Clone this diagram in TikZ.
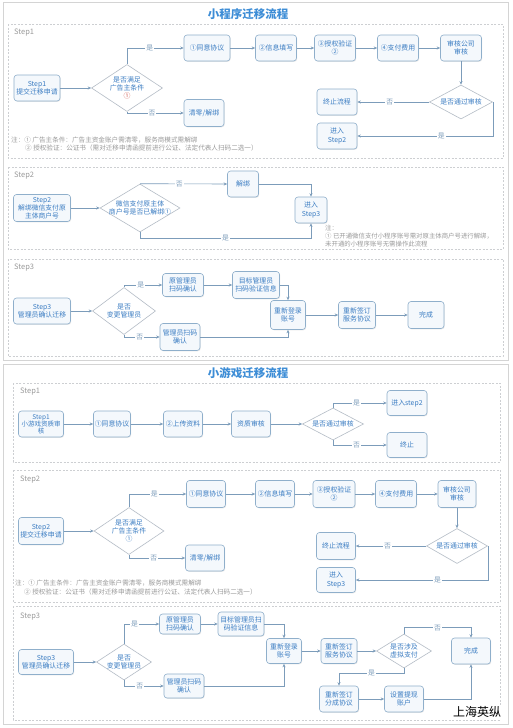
\documentclass[tikz,border=0pt]{standalone}
\usepackage{fontspec}
\setmainfont{Noto Sans CJK SC}
\usetikzlibrary{arrows.meta,shapes.geometric,shadows}
\definecolor{boxline}{HTML}{8FAFCB}
\definecolor{boxfill}{HTML}{F4F8FC}
\definecolor{txtblue}{HTML}{3A7CC2}
\definecolor{dialine}{HTML}{B4BCC6}
\definecolor{lineclr}{HTML}{7C9CBA}
\definecolor{dashclr}{HTML}{CDCFD2}
\definecolor{titleblue}{HTML}{3D8DD6}
\definecolor{notegray}{HTML}{9A9A9A}
\definecolor{panelline}{HTML}{D4D4D4}
\definecolor{redmark}{HTML}{D0584E}
\begin{document}
\begin{tikzpicture}[x=1pt,y=-1pt,
  box/.style={draw=boxline, fill=boxfill, rounded corners=3pt, text=txtblue,
    font=\fontsize{6.9}{8.3}\selectfont, align=center, inner sep=0pt, line width=0.6pt,
    drop shadow={shadow xshift=0.7pt, shadow yshift=-0.8pt, opacity=0.18}},
  sz/.style 2 args={minimum width=#1pt, minimum height=#2pt},
  dia/.style={draw=dialine, fill=white, diamond, inner sep=0pt, line width=0.6pt},
  dtxt/.style={text=txtblue, font=\fontsize{6.9}{8.3}\selectfont, align=center, inner sep=0pt},
  conn/.style={draw=lineclr, line width=0.6pt, -{Stealth[length=3.5pt,width=3pt]}},
  lbl/.style={fill=white, text=lineclr, font=\fontsize{6.8}{7}\selectfont, inner sep=1pt},
  secbox/.style={draw=dashclr, dash pattern=on 2pt off 1.5pt, line width=0.5pt},
  seclab/.style={text=notegray, font=\fontsize{7.5}{8}\selectfont, anchor=west, inner sep=0pt},
  notetxt/.style={text=notegray, font=\fontsize{6.6}{8}\selectfont, anchor=west, inner sep=0pt, align=left},
  ttl/.style={text=titleblue, font=\fontsize{11.5}{13}\bfseries\selectfont},
  panel/.style={draw=panelline, fill=white, line width=0.8pt}
]
\useasboundingbox[fill=white] (0,0) rectangle (513,728);
% panels
\draw[panel] (3,2) rectangle (508,360);
\draw[panel] (3,364) rectangle (508,724);

%================ Panel 1 ================
\node[ttl] (t1) at (248,14) {小程序迁移流程};

% ---- Step1 ----
\draw[secbox] (8,24) rectangle (503,158);
\node[seclab] (s11) at (14,33) {Step1};
\node[box, sz={46}{26}] (a1) at (37,88) {Step1\\提交迁移申请};
\node[dia, minimum width=71pt, minimum height=47pt] (ad1) at (127,88) {};
\node[dtxt] (ad1t) at (ad1) {是否满足\\广告主条件\\\textcolor{redmark}{①}};
\node[box, sz={46}{26}] (a2) at (207,48) {①同意协议};
\node[box, sz={41}{26}] (a3) at (276,48) {②信息填写};
\node[box, sz={41}{26}] (a4) at (335,48) {③授权验证\\②};
\node[box, sz={41}{26}] (a5) at (398,48) {④支付费用};
\node[box, sz={41}{26}] (a6) at (461,48) {审核公司\\审核};
\node[box, sz={40}{27}] (a7) at (204,113) {清零/解绑};
\node[dia, minimum width=63pt, minimum height=34pt] (ad2) at (461,102) {};
\node[dtxt] (ad2t) at (ad2) {是否通过审核};
\node[box, sz={40}{26}] (a8) at (337,102) {终止流程};
\node[box, sz={40}{26}] (a9) at (337,136) {进入\\Step2};
\draw[conn] (a1) -- (ad1.west);
\draw[conn] (ad1.north) |- node[lbl, pos=0.7]{是} (a2.west);
\draw[conn] (ad1.south) |- node[lbl, pos=0.72]{否} (a7.west);
\draw[conn] (a2) -- (a3);
\draw[conn] (a3) -- (a4);
\draw[conn] (a4) -- (a5);
\draw[conn] (a5) -- (a6);
\draw[conn] (a6) -- (ad2.north);
\draw[conn] (ad2.west) -- node[lbl, pos=0.55]{否} (a8.east);
\draw[conn] (ad2.east) |- node[lbl, pos=0.69]{是} (a9.east);
\node[notetxt] (n11) at (11,140) {注：① 广告主条件：广告主资金账户需清零，服务商模式需解绑};
\node[notetxt] (n12) at (25,148) {② 授权验证：公证书（需对迁移申请函提前进行公证、法定代表人扫码二选一）};

% ---- Step2 ----
\draw[secbox] (8,167) rectangle (503,249);
\node[seclab] (s12) at (14,176) {Step2};
\node[box, sz={57}{27}, font=\fontsize{6.8}{7.8}\selectfont] (b1) at (42,208) {Step2\\解绑微信支付原\\主体商户号};
\node[dia, minimum width=80pt, minimum height=48pt] (bd1) at (140,208) {};
\node[dtxt] (bd1t) at (bd1) {微信支付原主体\\商户号是否已解绑①};
\node[box, sz={31}{26}] (b2) at (243,184) {解绑};
\node[box, sz={32}{26}] (b3) at (311,210) {进入\\Step3};
\draw[conn] (b1) -- (bd1.west);
\draw[conn] (bd1.north) -- node[lbl, pos=0.45]{否} (b2.west);
\draw[conn] (b2.east) -| (b3.north);
\draw[conn] (bd1.south) -- ++(0,6) -| node[lbl, pos=0.25]{是} (b3.south);
\node[notetxt, font=\fontsize{6.4}{8}\selectfont] (n21) at (325,236) {注：\\① 已开通微信支付小程序账号需对原主体商户号进行解绑，\\未开通的小程序账号无需操作此流程};

% ---- Step3 ----
\draw[secbox] (8,259) rectangle (503,356);
\node[seclab] (s13) at (14,268) {Step3};
\node[box, sz={57}{26}] (c1) at (42,311) {Step3\\管理员确认迁移};
\node[dia, minimum width=63pt, minimum height=47pt] (cd1) at (124,311) {};
\node[dtxt] (cd1t) at (cd1) {是否\\变更管理员};
\node[box, sz={41}{23}] (c2) at (183,285) {原管理员\\扫码确认};
\node[box, sz={47}{27}] (c3) at (256,285) {目标管理员\\扫码验证信息};
\node[box, sz={40}{27}] (c4) at (180,337) {管理员扫码\\确认};
\node[box, sz={35}{29}] (c5) at (288,315) {重新登录\\账号};
\node[box, sz={37}{27}] (c6) at (357,315) {重新签订\\服务协议};
\node[box, sz={36}{27}] (c7) at (426,315) {完成};
\draw[conn] (c1) -- (cd1.west);
\draw[conn] (cd1.north) |- node[lbl, pos=0.72]{是} (c2.west);
\draw[conn] (cd1.south) |- node[lbl, pos=0.72]{否} (c4.west);
\draw[conn] (c2) -- (c3);
\draw[conn] (c3.east) -| (c5.north);
\draw[conn] (c4.east) -| (c5.south);
\draw[conn] (c5) -- (c6);
\draw[conn] (c6) -- (c7);

%================ Panel 2 ================
\node[ttl] (t2) at (248,373) {小游戏迁移流程};

% ---- Step1 ----
\draw[secbox] (13,383) rectangle (500,462);
\node[seclab] (s21) at (20,392) {Step1};
\node[box, sz={45}{26}, font=\fontsize{6.5}{7}\selectfont] (d1) at (41,424) {Step1\\小游戏资质审\\核};
\node[box, sz={37}{26}] (d2) at (112,424) {①同意协议};
\node[box, sz={39}{26}] (d3) at (183,424) {②上传资料};
\node[box, sz={39}{26}] (d4) at (251,424) {资质审核};
\node[dia, minimum width=61pt, minimum height=32pt] (dd1) at (333,424) {};
\node[dtxt] (dd1t) at (dd1) {是否通过审核};
\node[box, sz={40}{25}] (d5) at (407,403) {进入step2};
\node[box, sz={40}{25}] (d6) at (407,445) {终止};
\draw[conn] (d1) -- (d2);
\draw[conn] (d2) -- (d3);
\draw[conn] (d3) -- (d4);
\draw[conn] (d4) -- (dd1.west);
\draw[conn] (dd1.north) |- node[lbl, pos=0.72]{是} (d5.west);
\draw[conn] (dd1.south) |- node[lbl, pos=0.72]{否} (d6.west);

% ---- Step2 ----
\draw[secbox] (13,470) rectangle (500,602);
\node[seclab] (s22) at (20,480) {Step2};
\node[box, sz={45}{27}] (e1) at (41,531) {Step2\\提交迁移申请};
\node[dia, minimum width=70pt, minimum height=47pt] (ed1) at (129,531) {};
\node[dtxt] (ed1t) at (ed1) {是否满足\\广告主条件\\①};
\node[box, sz={39}{27}] (e2) at (206,494) {①同意协议};
\node[box, sz={39}{27}] (e3) at (275,494) {②信息填写};
\node[box, sz={42}{27}] (e4) at (334,494) {③授权验证\\②};
\node[box, sz={41}{27}] (e5) at (396,494) {④支付费用};
\node[box, sz={38}{27}] (e6) at (457,494) {审核公司\\审核};
\node[box, sz={39}{26}] (e7) at (205,558) {清零/解绑};
\node[dia, minimum width=61pt, minimum height=35pt] (ed2) at (457,546) {};
\node[dtxt] (ed2t) at (ed2) {是否通过审核};
\node[box, sz={39}{27}] (e8) at (336,546) {终止流程};
\node[box, sz={39}{25}] (e9) at (336,580) {进入\\Step3};
\draw[conn] (e1) -- (ed1.west);
\draw[conn] (ed1.north) |- node[lbl, pos=0.72]{是} (e2.west);
\draw[conn] (ed1.south) |- node[lbl, pos=0.72]{否} (e7.west);
\draw[conn] (e2) -- (e3);
\draw[conn] (e3) -- (e4);
\draw[conn] (e4) -- (e5);
\draw[conn] (e5) -- (e6);
\draw[conn] (e6) -- (ed2.north);
\draw[conn] (ed2.west) -- node[lbl, pos=0.55]{否} (e8.east);
\draw[conn] (ed2.east) |- node[lbl, pos=0.69]{是} (e9.east);
\node[notetxt] (n31) at (15,583) {注：① 广告主条件：广告主资金账户需清零，服务商模式需解绑};
\node[notetxt] (n32) at (24,592) {② 授权验证：公证书（需对迁移申请函提前进行公证、法定代表人扫码二选一）};

% ---- Step3 ----
\draw[secbox] (13,606) rectangle (500,720);
\node[seclab] (s23) at (20,617) {Step3};
\node[box, sz={55}{25}] (f1) at (46,662) {Step3\\管理员确认迁移};
\node[dia, minimum width=55pt, minimum height=36pt] (fd1) at (124,662) {};
\node[dtxt] (fd1t) at (fd1) {是否\\变更管理员};
\node[box, sz={41}{20}] (f2) at (180,624) {原管理员\\扫码确认};
\node[box, sz={46}{24}] (f3) at (241,624) {目标管理员扫\\码验证信息};
\node[box, sz={40}{24}] (f4) at (184,686) {管理员扫码\\确认};
\node[box, sz={35}{25}] (f5) at (284,651) {重新登录\\账号};
\node[box, sz={36}{25}] (f6) at (339,651) {重新签订\\服务协议};
\node[dia, minimum width=55pt, minimum height=34pt] (fd2) at (404,651) {};
\node[dtxt] (fd2t) at (fd2) {是否涉及\\虚拟支付};
\node[box, sz={39}{26}] (f7) at (471,651) {完成};
\node[box, sz={39}{26}] (f8) at (339,699) {重新签订\\分成协议};
\node[box, sz={39}{26}] (f9) at (404,699) {设置提现\\账户};
\draw[conn] (f1) -- (fd1.west);
\draw[conn] (fd1.north) |- node[lbl, pos=0.65]{是} (f2.west);
\draw[conn] (fd1.south) |- node[lbl, pos=0.7]{否} (f4.west);
\draw[conn] (f2) -- (f3);
\draw[conn] (f3.east) -| (f5.north);
\draw[conn] (f4.east) -| (f5.south);
\draw[conn] (f5) -- (f6);
\draw[conn] (f6) -- (fd2.west);
\draw[conn] (fd2.north) -- ++(0,-6) -| node[lbl, pos=0.25]{否} (f7.north);
\draw[conn] (fd2.south) -- ++(0,5) -| node[lbl, pos=0.25]{是} (f8.north);
\draw[conn] (f8) -- (f9);
\draw[conn] (f9.east) -| (f7.south);

\node[font=\fontsize{12}{14}\selectfont, text=black, fill=white, inner sep=1pt] (wm) at (477,712) {上海英纵};
\end{tikzpicture}
\end{document}
